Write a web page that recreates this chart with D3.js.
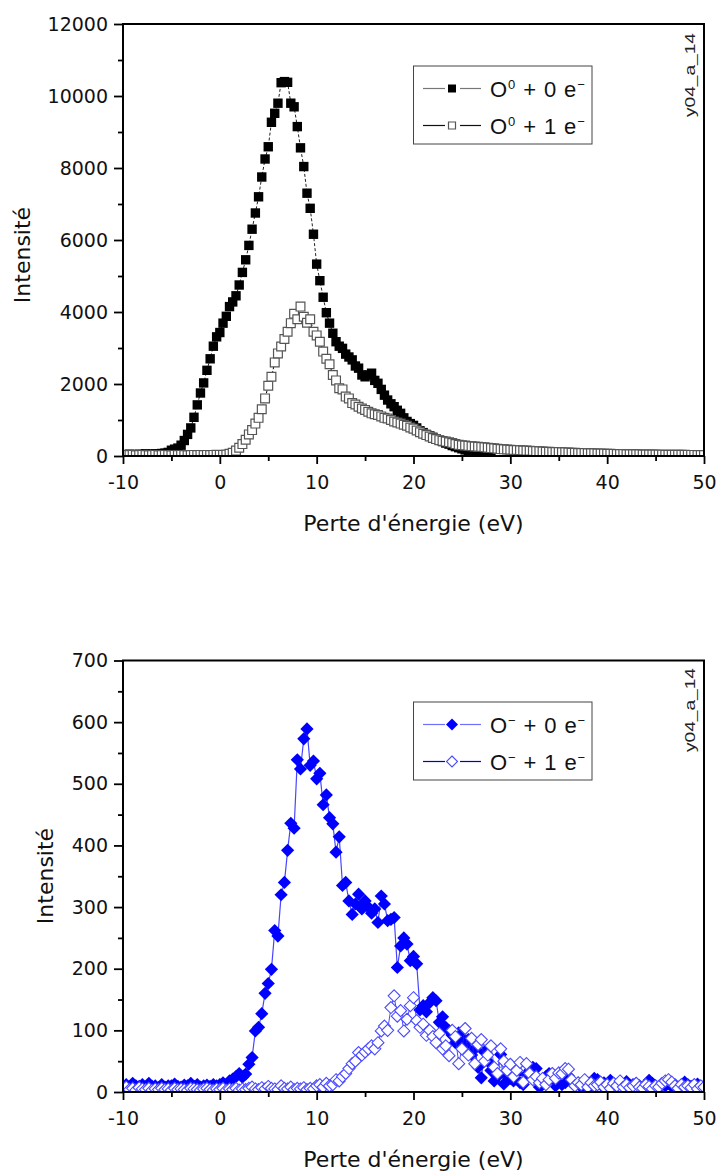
<!DOCTYPE html>
<html><head><meta charset="utf-8">
<script src="https://cdn.jsdelivr.net/npm/d3@7"></script>
<style>body{margin:0;background:#fff} svg{display:block}</style>
</head><body>
<svg id="c" width="719" height="1176"></svg>
<script>
// ---------- data ----------
const energy = [-10,-9.67,-9.33,-9,-8.67,-8.33,-8,-7.67,-7.33,-7,-6.67,-6.33,-6,-5.67,-5.33,-5,-4.67,-4.33,-4,-3.67,-3.33,-3,-2.67,-2.33,-2,-1.67,-1.33,-1,-0.67,-0.33,0,0.33,0.67,1,1.33,1.67,2,2.33,2.67,3,3.33,3.67,4,4.33,4.67,5,5.33,5.67,6,6.33,6.67,7,7.33,7.67,8,8.33,8.67,9,9.33,9.67,10,10.33,10.67,11,11.33,11.67,12,12.33,12.67,13,13.33,13.67,14,14.33,14.67,15,15.33,15.67,16,16.33,16.67,17,17.33,17.67,18,18.33,18.67,19,19.33,19.67,20,20.33,20.67,21,21.33,21.67,22,22.33,22.67,23,23.33,23.67,24,24.33,24.67,25,25.33,25.67,26,26.33,26.67,27,27.33,27.67,28,28.33,28.67,29,29.33,29.67,30,30.33,30.67,31,31.33,31.67,32,32.33,32.67,33,33.33,33.67,34,34.33,34.67,35,35.33,35.67,36,36.33,36.67,37,37.33,37.67,38,38.33,38.67,39,39.33,39.67,40,40.33,40.67,41,41.33,41.67,42,42.33,42.67,43,43.33,43.67,44,44.33,44.67,45,45.33,45.67,46,46.33,46.67,47,47.33,47.67,48,48.33,48.67,49,49.33,49.67,50];

// O0 + 0 e-  (top, filled squares)
const topFilled = [40,30,50, 40,30,50, 40,60,40, 50,60,50, 70,80,100,
  160,190,220, 300,430,600, 780,1075,1420, 1750,2030,2380, 2700,3050,3310,
  3430,3690,3880, 4150,4280,4450, 4750,5100,5450, 5850,6300,6750, 7200,7750,8250,
  8590,9270,9520, 9800,10370,10400, 10380,9800,9700, 9150,8560,8040, 7300,6880,6160,
  5330,4870,4410, 3980,3690,3410, 3175,3050,2990, 2830,2750,2670, 2500,2440,2250,
  2200,2250,2300, 2100,2020,1850, 1690,1555,1450, 1370,1270,1185, 1060,960,900,
  850,780,700, 650,600,560, 520,480,440, 400,360,330, 290,260,230,
  200,170,140, 120,100,80, 60,45,30, 15];

// O0 + 1 e-  (top, open squares)
const topOpen = [20,30,25, 30,20,25, 30,25,20, 25,30,20, 25,30,25,
  20,30,25, 30,25,20, 25,30,25, 30,25,30, 25,30,35,
  30,30,40, 60,90,150, 230,330,450, 600,720,900, 1060,1300,1600,
  1950,2200,2600, 2850,3040,3250, 3450,3690,3950, 3800,4150,3870, 3700,3800,3450,
  3350,3175,2900, 2700,2550,2250, 2100,1880,1850, 1650,1600,1470, 1430,1370,1320,
  1280,1230,1185, 1160,1140,1100, 1060,1040,1000, 960,930,900, 870,840,790,
  760,710,660, 620,580,540, 500,470,440, 420,400,380, 360,330,310,
  300,290,280, 270,262,255, 250,240,232, 220,212,200, 192,185,180,
  175,168,165, 160,152,150, 145,138,135, 130,126,120, 118,112,110,
  108,104,100, 95,92,88, 85,81,80, 78,74,72, 70,67,65,
  62,60,58, 57,55,52, 50,49,47, 46,45,43, 42,41,40,
  40,38,37, 36,35,35, 34,33,32, 32,31,30, 30,29,28,
  28];

// O- + 0 e-  (bottom, filled diamonds)
const botFilled = [10,12,8, 14,10,9, 12,8,14, 9,10,7, 12,8,10,
  10,13,9, 8,11,10, 14,9,12, 8,10,11, 9,12,10,
  12,15,12, 18,21,25, 30,24,29, 45,56,99, 105,127,160,
  176,199,262, 253,320,340, 392,436,428, 539,524,573, 589,530,537,
  508,517,466, 482,445,435, 389,414,335, 340,310,288, 305,321,297,
  310,300,290, 297,275,318, 305,278,280, 283,202,237, 250,240,213,
  220,208,133, 140,130,145, 153,148,113, 122,105,99, 92,80,96,
  88,75,85, 60,70,40, 23,65,50, 35,18,25, 61,13,25,
  22,18,30, 15,12,28, 35,40,38, 8,12,25, 30,20,10,
  18,12,15, 26,15,10, 14,8,12, 15,10,22, 20,12,15,
  10,19,14, 10,15,12, 17,10,12, 14,10,8, 12,19,14,
  10,8,12, 10,14,9, 12,8,10, 16,12,9, 11,13,8,
  10];

// O- + 1 e-  (bottom, open diamonds)
const botOpen = [5,8,4, 6,3,7, 5,4,6, 3,5,4, 6,4,5,
  3,6,4, 5,4,3, 6,5,4, 3,5,6, 4,3,5,
  4,6,3, 5,4,6, 3,5,4, 6,8,5, 4,7,5,
  9,6,5, 4,10,6, 5,8,4, 6,5,7, 4,6,5,
  10,12,8, 14,10,12, 20,18,25, 30,38,46, 50,64,60,
  65,70,75, 70,80,99, 107,100,137, 156,123,132, 99,118,140,
  153,116,105, 110,92,100, 90,80,95, 70,75,59, 100,90,46,
  70,103,60, 87,46,77, 85,50,60, 75,40,30, 70,50,35,
  45,25,35, 48,16,46, 30,20,25, 15,22,12, 20,30,22,
  31,30,38, 37,20,10, 15,12,20, 8,15,10, 12,16,8,
  12,6,14, 10,18,8, 12,7,10, 14,8,6, 12,9,5,
  10,8,14, 18,20,16, 10,6,12, 8,10,7, 12,5,10,
  8];

const xTicks = [-10, 0, 10, 20, 30, 40, 50];
const xMinor = [-5, 5, 15, 25, 35, 45];
const topYTicks = [0, 2000, 4000, 6000, 8000, 10000, 12000];
const topYMinor = [1000, 3000, 5000, 7000, 9000, 11000];
const botYTicks = [0, 100, 200, 300, 400, 500, 600, 700];
const botYMinor = [50, 150, 250, 350, 450, 550, 650];
const topLegend = [['O', '0', ' + 0 e', '\u2212'], ['O', '0', ' + 1 e', '\u2212']];
const botLegend = [['O', '\u2212', ' + 0 e', '\u2212'], ['O', '\u2212', ' + 1 e', '\u2212']];
const xTitle = "Perte d'énergie (eV)";
const yTitle = "Intensité";
const tag = "y04_a_14";

// ---------- drawing ----------
const svg = d3.select('#c');
const FONT = "'DejaVu Sans', Verdana, sans-serif";
const LFONT = "'Liberation Sans', Arial, sans-serif";
const L = 123, R = 704;

const SQ = 'M-4.7,-4.7h9.4v9.4h-9.4z';
const SQo = 'M-4.4,-4.4h8.8v8.8h-8.8z';
const DI = 'M0,-6.6L6.6,0L0,6.6L-6.6,0Z';
const DIo = 'M0,-6L6,0L0,6L-6,0Z';

function panel(p) {
  const x = d3.scaleLinear().domain([-10, 50]).range([L, R]);
  const y = d3.scaleLinear().domain(p.yDomain).range([p.y0, p.yTop]);
  const g = svg.append('g');

  g.append('clipPath').attr('id', 'clip' + p.id).append('rect')
    .attr('x', L).attr('y', p.yTop).attr('width', R - L).attr('height', p.y0 - p.yTop);

  function styleAxis(sel) {
    sel.select('.domain').remove();
    sel.selectAll('.tick line').attr('stroke', '#000').attr('stroke-width', 1.8);
    sel.selectAll('.tick text').attr('font-family', FONT).attr('font-size', 19).attr('fill', '#111');
  }
  g.append('g').attr('transform', `translate(0,${p.y0})`)
    .call(d3.axisBottom(x).tickValues(xTicks).tickSize(8).tickSizeOuter(0).tickPadding(12).tickFormat(d => String(d)))
    .call(styleAxis);
  g.append('g').attr('transform', `translate(0,${p.y0})`)
    .call(d3.axisBottom(x).tickValues(xMinor).tickSize(5).tickSizeOuter(0).tickFormat(''))
    .call(styleAxis);
  g.append('g').attr('transform', `translate(${L},0)`)
    .call(d3.axisLeft(y).tickValues(p.yTicks).tickSize(9).tickSizeOuter(0).tickPadding(6).tickFormat(d => String(d)))
    .call(styleAxis);
  g.append('g').attr('transform', `translate(${L},0)`)
    .call(d3.axisLeft(y).tickValues(p.yMinor).tickSize(5).tickSizeOuter(0).tickFormat(''))
    .call(styleAxis);

  const plot = g.append('g').attr('clip-path', `url(#clip${p.id})`);
  const line = d3.line().x(d => x(d[0])).y(d => y(d[1]));
  p.series.forEach(s => {
    const pts = s.values.map((v, i) => [energy[i], v]);
    plot.append('path').datum(pts).attr('d', line)
      .attr('fill', 'none').attr('stroke', s.lineColor).attr('stroke-width', s.lineWidth)
      .attr('stroke-dasharray', s.dash || null);
    plot.append('g').selectAll('path').data(pts).join('path')
      .attr('transform', d => `translate(${x(d[0])},${y(d[1])})`)
      .attr('d', s.shape).attr('fill', s.fill).attr('stroke', s.stroke).attr('stroke-width', s.strokeWidth);
  });

  // frame
  g.append('rect').attr('x', L).attr('y', p.yTop).attr('width', R - L).attr('height', p.y0 - p.yTop)
    .attr('fill', 'none').attr('stroke', '#000').attr('stroke-width', 2);

  // titles
  g.append('text').attr('x', (L + R) / 2).attr('y', p.y0 + 75).attr('text-anchor', 'middle')
    .attr('font-family', FONT).attr('font-size', 22).attr('fill', '#111').text(xTitle);
  g.append('text').attr('transform', `translate(${p.yTitleX},${p.yTitleY}) rotate(-90)`).attr('text-anchor', 'middle')
    .attr('font-family', FONT).attr('font-size', 22).attr('fill', '#111').text(yTitle);
  g.append('text').attr('transform', `translate(695,${p.tagY}) rotate(-90)`).attr('text-anchor', 'start')
    .attr('font-family', LFONT).attr('font-size', 14).attr('fill', '#222')
    .attr('textLength', 84).attr('lengthAdjust', 'spacingAndGlyphs').text(tag);

  // legend
  const lg = g.append('g');
  lg.append('rect').attr('x', 413.5).attr('y', p.legTop).attr('width', 178.5).attr('height', 78)
    .attr('fill', '#fff').attr('stroke', '#444').attr('stroke-width', 1);
  p.series.forEach((s, i) => {
    const cy = p.legTop + 22.5 + i * 37;
    lg.append('line').attr('x1', 423).attr('x2', 445).attr('y1', cy).attr('y2', cy).attr('stroke', s.legLine).attr('stroke-width', 1.2);
    lg.append('line').attr('x1', 460).attr('x2', 481).attr('y1', cy).attr('y2', cy).attr('stroke', s.legLine).attr('stroke-width', 1.2);
    lg.append('path').attr('transform', `translate(452,${cy})`).attr('d', s.legShape)
      .attr('fill', s.fill).attr('stroke', s.stroke).attr('stroke-width', s.strokeWidth);
    const parts = p.legend[i];
    const t = lg.append('text').attr('x', 490).attr('y', cy + 8.5).attr('font-family', LFONT)
      .attr('font-size', 22).attr('letter-spacing', 0.9).attr('fill', '#111');
    t.append('tspan').text(parts[0]);
    t.append('tspan').attr('font-size', 13).attr('dy', -8).text(parts[1]);
    t.append('tspan').attr('dy', 8).text(parts[2]);
    t.append('tspan').attr('font-size', 13).attr('dy', -8).text(parts[3]);
  });
}

panel({
  id: 'top', yDomain: [0, 12000], y0: 456, yTop: 24, yTicks: topYTicks, yMinor: topYMinor,
  yTitleX: 30, yTitleY: 255, tagY: 117, legTop: 66, legend: topLegend,
  series: [
    { values: topFilled, lineColor: '#222', lineWidth: 1, dash: '3,2', shape: SQ, legShape: 'M-4,-4h8v8h-8z', fill: '#000', stroke: 'none', strokeWidth: 0, legLine: '#777' },
    { values: topOpen, lineColor: '#000', lineWidth: 1, dash: '3,2', shape: SQo, legShape: 'M-3.5,-3.5h7v7h-7z', fill: '#fff', stroke: '#555', strokeWidth: 1.2, legLine: '#111' }
  ]
});
panel({
  id: 'bot', yDomain: [0, 700], y0: 1092, yTop: 660.5, yTicks: botYTicks, yMinor: botYMinor,
  yTitleX: 53, yTitleY: 876, tagY: 752, legTop: 702, legend: botLegend,
  series: [
    { values: botFilled, lineColor: '#4646ff', lineWidth: 1.2, shape: DI, legShape: 'M0,-6L6,0L0,6L-6,0Z', fill: '#0000ff', stroke: 'none', strokeWidth: 0, legLine: '#7070ff' },
    { values: botOpen, lineColor: '#2020ff', lineWidth: 0.8, shape: DIo, legShape: 'M0,-5.5L5.5,0L0,5.5L-5.5,0Z', fill: '#fff', stroke: '#4a4aff', strokeWidth: 1.1, legLine: '#0000cc' }
  ]
});
</script>
</body></html>
